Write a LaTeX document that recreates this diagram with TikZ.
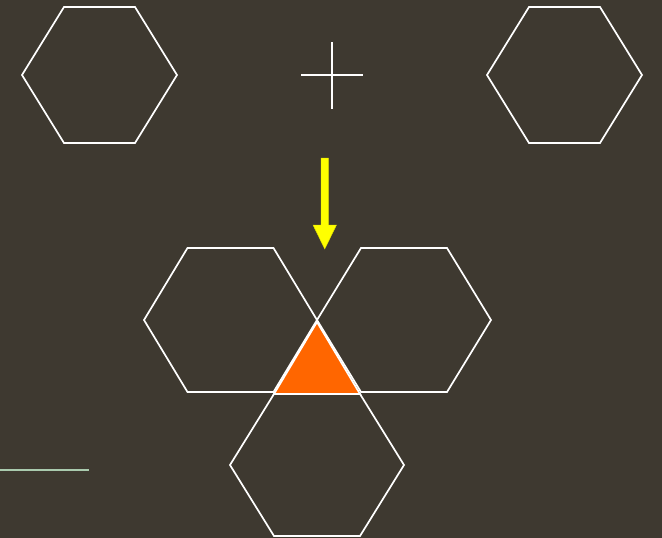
\documentclass[tikz,border=0pt]{standalone}
\definecolor{bgcolor}{HTML}{3E3930}
\definecolor{hexcolor}{HTML}{FFFFFF}
\definecolor{arrowcolor}{HTML}{FFFF00}
\definecolor{tricolor}{HTML}{FF6600}
\definecolor{rulecolor}{HTML}{AACBAE}

\begin{document}
\begin{tikzpicture}[
    x=1pt, y=-1pt,
    hexline/.style={hexcolor, line width=1.7pt, line join=miter},
    crossline/.style={hexcolor, line width=1.7pt},
]

% Background
\fill[bgcolor] (0, 0) rectangle (662, 538);
\useasboundingbox (0, 0) rectangle (662, 538);

% Top hexagons
\foreach \cx in {99.5, 564.5} {
    \draw[hexline] (\cx-77.5, 75) -- (\cx-35.5, 7) -- (\cx+35.5, 7)
        -- (\cx+77.5, 75) -- (\cx+35.5, 143) -- (\cx-35.5, 143) -- cycle;
}

% Plus sign
\draw[crossline] (332, 42) -- (332, 109);
\draw[crossline] (301, 75) -- (363, 75);

% Arrow
\filldraw[arrowcolor, draw=arrowcolor!85!black, line width=0.4pt]
    (321, 158) -- (328.5, 158) -- (328.5, 225) -- (336.5, 225)
    -- (324.75, 249) -- (313, 225) -- (321, 225) -- cycle;

% Bottom hexagons (cx/cy/half edge/half height)
\foreach \cx/\cy/\hw/\hh in {
    230.5/320/86.5/72, 404/320/87/72, 317/465/87/71} {
    \draw[hexline] (\cx-\hw, \cy) -- (\cx-43, \cy-\hh) -- (\cx+43, \cy-\hh)
        -- (\cx+\hw, \cy) -- (\cx+43, \cy+\hh) -- (\cx-43, \cy+\hh) -- cycle;
}

% Triangle
\filldraw[fill=tricolor, draw=hexcolor, line width=1.7pt]
    (317, 322) -- (274, 394) -- (360, 394) -- cycle;

% Rule at lower left
\draw[rulecolor, line width=2.2pt] (0, 470) -- (89, 470);

\end{tikzpicture}
\end{document}
